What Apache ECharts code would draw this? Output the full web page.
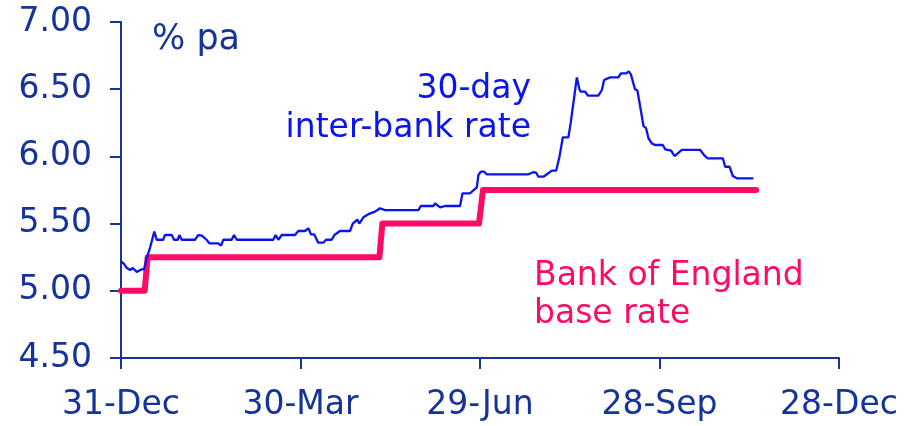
<!DOCTYPE html>
<html>
<head>
<meta charset="utf-8">
<script src="https://cdn.jsdelivr.net/npm/echarts@6/dist/echarts.min.js"></script>
<style>
  html, body { margin: 0; padding: 0; background: #fff; }
  #chart { width: 908px; height: 426px; }
</style>
</head>
<body>
<div id="chart"></div>
<script>
// days counted from 31-Dec
var tickLabels = ['31-Dec', '30-Mar', '29-Jun', '28-Sep', '28-Dec'];

// 30-day inter-bank rate, [day, % pa]
var interbankRate = [
    [0, 5.22], [1.5, 5.20], [3, 5.17], [4.6, 5.155], [6, 5.17], [8, 5.14],
    [10.5, 5.16], [11.7, 5.16], [13, 5.24], [14.7, 5.32], [16.9, 5.44], [18.1, 5.38],
    [21.4, 5.38], [22.3, 5.415], [25.7, 5.415], [26.9, 5.38], [28.8, 5.38], [29.6, 5.415],
    [30.8, 5.38], [37.5, 5.38], [39.2, 5.415], [41, 5.41], [43.5, 5.378], [44.8, 5.353],
    [49.3, 5.353], [50.7, 5.336], [51.9, 5.38], [56.1, 5.38], [57.3, 5.415], [58.7, 5.38],
    [77.2, 5.38], [78.4, 5.415], [79.8, 5.38], [81.5, 5.415], [88.2, 5.415], [89.9, 5.445],
    [93.3, 5.445], [95, 5.465], [96.3, 5.42], [97.9, 5.42], [100, 5.358], [102.6, 5.358],
    [104, 5.38], [106.8, 5.38], [108.2, 5.415], [111, 5.445], [116.1, 5.445], [117.5, 5.50],
    [119.8, 5.53], [120.8, 5.50], [122.9, 5.547], [125.4, 5.57], [128.8, 5.589], [131.3, 5.614],
    [133.8, 5.60], [150.8, 5.60], [152, 5.631], [158.4, 5.631], [159.2, 5.651], [161.8, 5.62],
    [164.3, 5.631], [171.9, 5.631], [173.1, 5.725], [176.9, 5.725], [180.4, 5.77], [181.2, 5.862],
    [182.4, 5.886], [184.1, 5.886], [185.4, 5.867], [206.5, 5.867], [209, 5.882], [210.4, 5.88],
    [211.6, 5.849], [214.2, 5.849], [215.9, 5.867], [218.4, 5.894], [220.6, 5.894], [222.3, 5.998],
    [224, 6.142], [226.8, 6.142], [228, 6.251], [229, 6.251], [231.1, 6.588], [232.4, 6.499],
    [233.1, 6.482], [235.3, 6.482], [236.7, 6.452], [242, 6.452], [243.8, 6.494], [244.9, 6.568],
    [248, 6.588], [252.2, 6.588], [253.4, 6.618], [256.1, 6.618], [257.4, 6.633], [258.5, 6.61],
    [260.6, 6.499], [261.8, 6.49], [264.9, 6.226], [266.2, 6.21], [267.4, 6.135], [269.1, 6.097],
    [270.8, 6.085], [274.7, 6.085], [275.9, 6.053], [278.9, 6.043], [280.6, 6.003], [282.1, 6.02],
    [284.3, 6.048], [293.6, 6.048], [295.6, 6.01], [297.3, 5.986], [305.1, 5.986], [306.3, 5.923],
    [308.5, 5.923], [310.2, 5.854], [312.2, 5.837], [320.6, 5.837]
];

// Bank of England base rate, [day, % pa]
var baseRate = [
    [0, 5.00], [12, 5.00], [13.5, 5.25], [131, 5.25], [132.5, 5.50],
    [181.5, 5.50], [183.5, 5.75], [322, 5.75]
];

var navy = '#16339b';
var blue = '#0a14f0';
var pink = '#ff0a64';
var font = 'DejaVu Sans';

var chart = echarts.init(document.getElementById('chart'));

chart.setOption({
    animation: false,
    backgroundColor: '#fff',
    grid: { left: 121, right: 69, top: 22, bottom: 68 },
    xAxis: {
        type: 'value',
        min: 0,
        max: 364,
        interval: 91,
        splitLine: { show: false },
        axisLine: { lineStyle: { color: navy, width: 2 } },
        axisTick: { length: 11, lineStyle: { color: navy, width: 2 } },
        axisLabel: {
            color: navy,
            fontFamily: font,
            fontSize: 33,
            margin: 31,
            formatter: function (v) {
                return tickLabels[Math.round(v / 91)];
            }
        }
    },
    yAxis: {
        type: 'value',
        min: 4.5,
        max: 7,
        interval: 0.5,
        splitLine: { show: false },
        axisLine: { show: true, lineStyle: { color: navy, width: 2 } },
        axisTick: { show: true, length: 11, lineStyle: { color: navy, width: 2 } },
        axisLabel: {
            color: navy,
            fontFamily: font,
            fontSize: 33,
            margin: 29,
            formatter: function (v) {
                return v.toFixed(2);
            }
        }
    },
    series: [
        {
            name: 'Bank of England base rate',
            type: 'line',
            data: baseRate,
            showSymbol: false,
            lineStyle: { color: pink, width: 6, cap: 'round', join: 'round' },
            z: 2
        },
        {
            name: '30-day inter-bank rate',
            type: 'line',
            data: interbankRate,
            showSymbol: false,
            lineStyle: { color: blue, width: 2.3 },
            z: 3
        }
    ],
    graphic: [
        { type: 'text', left: 152, top: 22, style: { text: '% pa', fill: navy, font: '35px "DejaVu Sans"' } },
        { type: 'text', x: 531, y: 89, style: { text: '30-day', fill: blue, font: '33px "DejaVu Sans"', align: 'right', verticalAlign: 'middle' } },
        { type: 'text', x: 531, y: 128, style: { text: 'inter-bank rate', fill: blue, font: '33px "DejaVu Sans"', align: 'right', verticalAlign: 'middle' } },
        { type: 'text', x: 534, y: 276, style: { text: 'Bank of England', fill: pink, font: '33px "DejaVu Sans"', align: 'left', verticalAlign: 'middle' } },
        { type: 'text', x: 534, y: 314, style: { text: 'base rate', fill: pink, font: '33px "DejaVu Sans"', align: 'left', verticalAlign: 'middle' } }
    ]
});
</script>
</body>
</html>
